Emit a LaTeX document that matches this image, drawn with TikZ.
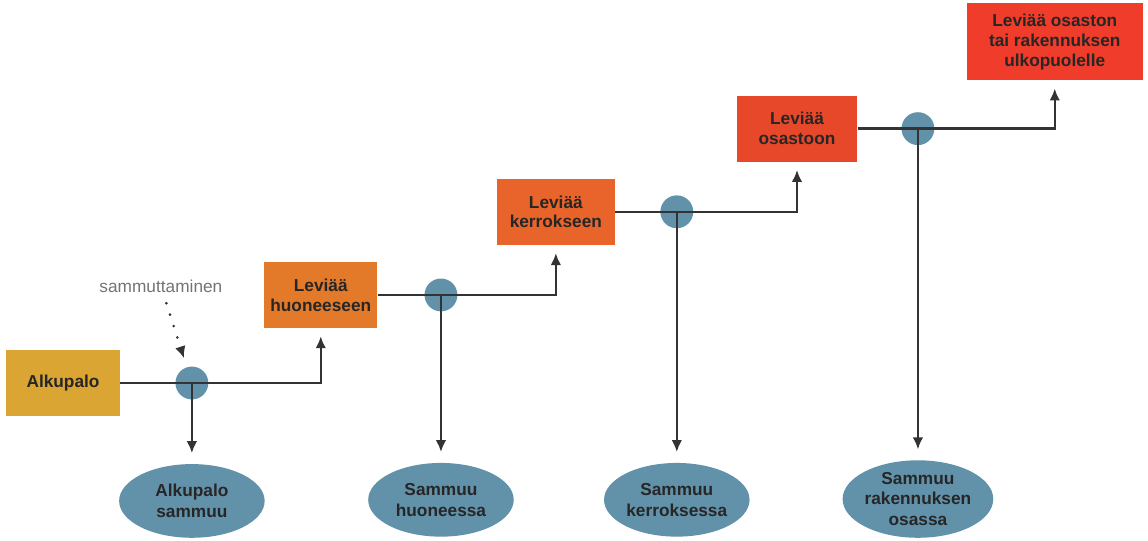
\documentclass[tikz,border=0pt]{standalone}
\usepackage{fontspec}
\setmainfont{Liberation Sans}
\usepackage{tikz}
\usetikzlibrary{shapes.geometric, arrows, arrows.meta}
\definecolor{alkuyellow}{RGB}{218,165,50}
\definecolor{huoneorange}{RGB}{226,122,42}
\definecolor{kerrosorange}{RGB}{232,100,42}
\definecolor{osastored}{RGB}{232,72,42}
\definecolor{ulkored}{RGB}{240,60,42}
\definecolor{knotblue}{RGB}{98,145,170}
\tikzstyle{stage} = [rectangle, minimum width=3cm, minimum height=1.75cm,
    text centered, align=center, text=black!85,
font=\fontsize{13}{15}\selectfont\bfseries]
\tikzstyle{knot} = [circle, fill=knotblue, minimum size=0.87cm, inner sep=0pt]
\tikzstyle{outcome} = [ellipse, fill=knotblue, minimum width=3.85cm,
    minimum height=1.95cm, inner sep=0pt, align=center, text=black!85,
font=\fontsize{13}{15.5}\selectfont\bfseries]
\tikzstyle{arrow} = [line width=1.8pt, draw=black!80, ->,
>={Latex[length=9pt,width=8pt]}]

\begin{document}
\begin{tikzpicture}
            \useasboundingbox (-1.667,-4.154) rectangle (28.707,10.134);
            % Stages
            \node[stage, fill=alkuyellow] (alkupalo) {Alkupalo};
            \node[knot, right of=alkupalo, xshift=2.41cm] (k1) {};
            \node[stage, fill=huoneorange, right of=k1, xshift=2.41cm,
            yshift=2.33cm] (huone) {Leviää\\huoneeseen};
            \node[knot, right of=huone, xshift=2.18cm] (k2) {};
            \node[stage, fill=kerrosorange, minimum width=3.12cm, right of=k2,
            xshift=2.04cm, yshift=2.2cm] (kerros) {Leviää\\kerrokseen};
            \node[knot, right of=kerros, xshift=2.2cm] (k3) {};
            \node[stage, fill=osastored, minimum width=3.2cm, right of=k3,
            xshift=2.18cm, yshift=2.2cm] (osasto) {Leviää\\osastoon};
            \node[knot, right of=osasto, xshift=2.2cm] (k4) {};
            \node[stage, fill=ulkored, minimum width=4.66cm, minimum height=2.04cm,
            right of=k4, xshift=2.62cm, yshift=2.3cm] (ulko)
            {Leviää osaston\\tai rakennuksen\\ulkopuolelle};
            % Outcomes
            \node[outcome, below of=k1, yshift=-2.12cm] (sammuu1) {Alkupalo\\sammuu};
            \node[outcome, below of=k2, yshift=-4.42cm] (sammuu2) {Sammuu\\huoneessa};
            \node[outcome, below of=k3, yshift=-6.62cm] (sammuu3) {Sammuu\\kerroksessa};
            \node[outcome, minimum height=2.05cm, below of=k4, yshift=-8.8cm]
            (sammuu4) {Sammuu\\rakennuksen\\osassa};
            \node[draw=none, above of=k1, xshift=-0.82cm, yshift=1.57cm,
            text=black!55, font=\fontsize{13}{15}\selectfont] (sammutus) {sammuttaminen};
            % Arrows
            \draw[arrow, shorten >=6pt] (alkupalo) -| (huone);
            \draw[arrow, shorten >=6pt] (huone) -| (kerros);
            \draw[arrow, shorten >=6pt] (kerros) -| (osasto);
            \draw[arrow, shorten >=6pt] (osasto) -| (ulko);
            \draw[arrow, shorten >=8pt] (k1.center) -- (sammuu1);
            \draw[arrow, shorten >=8pt] (k2.center) -- (sammuu2);
            \draw[arrow, shorten >=8pt] (k3.center) -- (sammuu3);
            \draw[arrow, shorten >=8pt] (k4.center) -- (sammuu4);
            \draw[arrow, line width=2.2pt, line cap=round, dash pattern=on 0pt off 9pt,
            shorten <=5pt, shorten >=7pt] (sammutus) -- (k1);
        \end{tikzpicture}
\end{document}
